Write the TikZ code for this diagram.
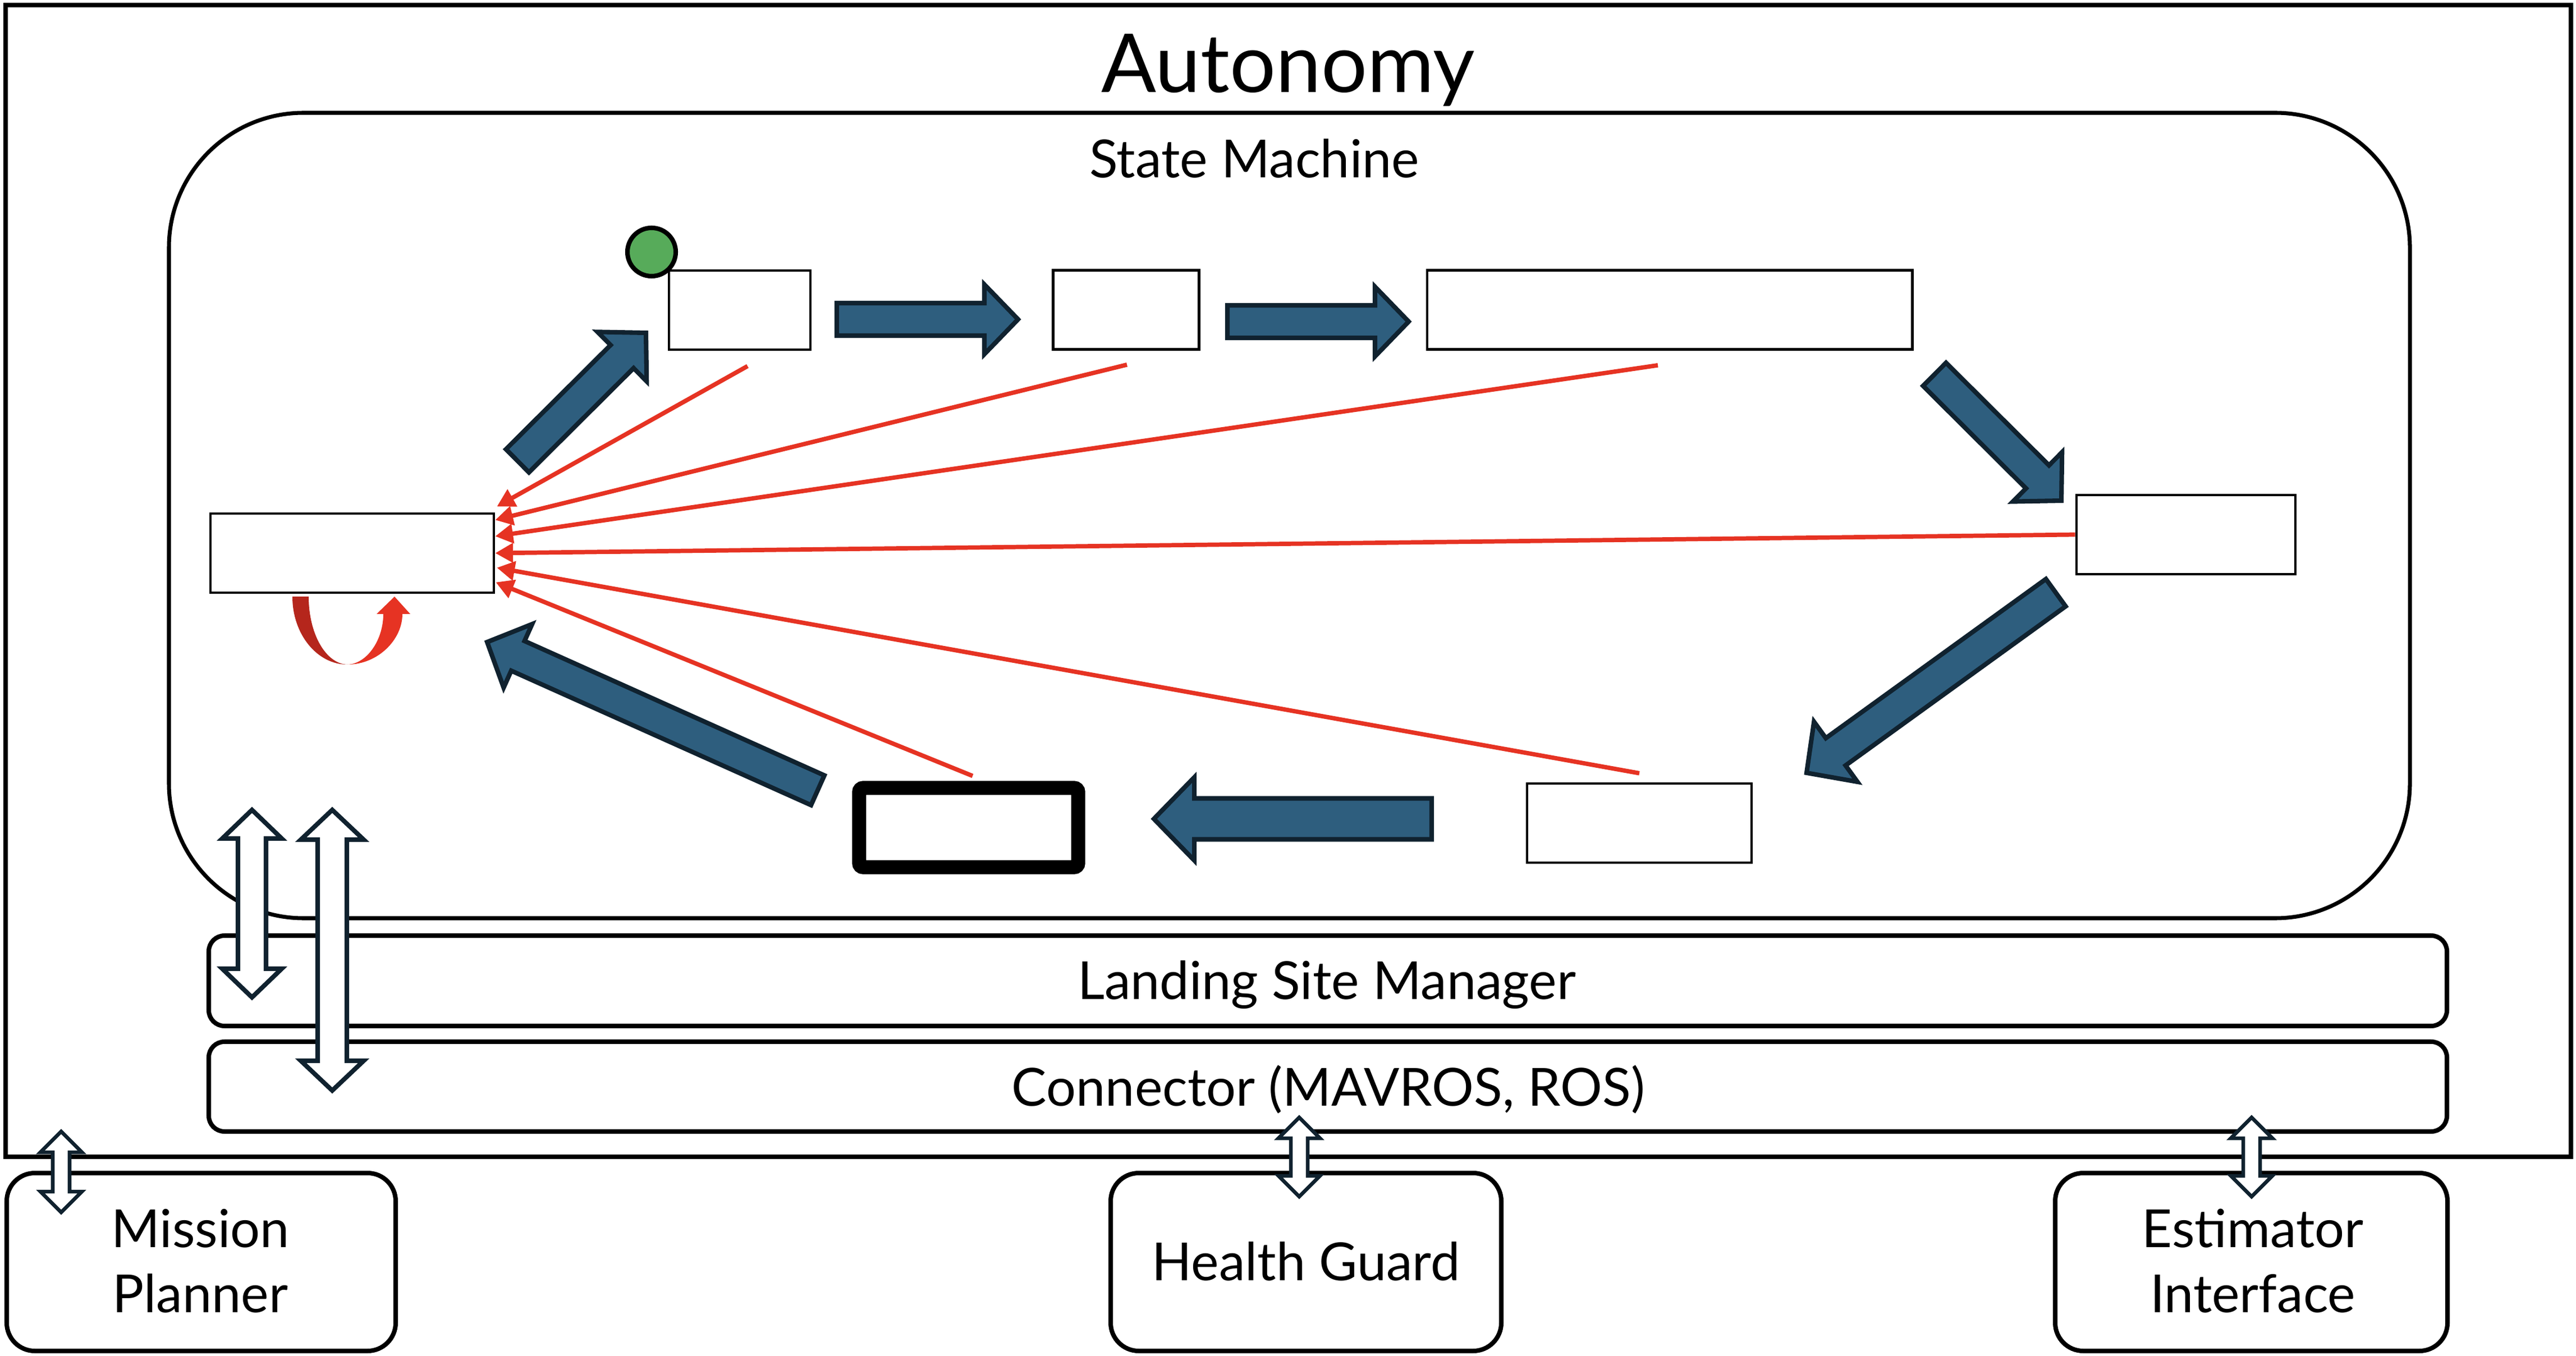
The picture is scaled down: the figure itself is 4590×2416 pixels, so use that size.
\documentclass[tikz,border=0pt]{standalone}
\usepackage{fontspec}
\setmainfont{Lato}
\usetikzlibrary{calc,arrows.meta}
\definecolor{navy}{HTML}{2E5E7E}
\definecolor{navyline}{HTML}{10222F}
\definecolor{redA}{HTML}{E63323}
\definecolor{redB}{HTML}{B5261C}
\definecolor{greenS}{HTML}{57AB5A}
\tikzset{
 frame/.style={draw=black, line width=2.28pt},
 smbox/.style={draw=black, line width=2pt, rounded corners=2.4cm},
 panel/.style={draw=black, line width=2.28pt, rounded corners=0.28cm, fill=white},
 extbox/.style={draw=black, line width=2.28pt, rounded corners=0.5cm, fill=white},
 state/.style={draw=black, line width=1.28pt, fill=white, inner sep=0pt, minimum height=1.41cm},
 boldstate/.style={draw=black, line width=7.1pt, fill=white, inner sep=0pt, minimum height=1.41cm, rounded corners=2pt},
 fatstyle/.style={fill=navy, draw=navyline, line width=2.3pt, line join=miter},
 dblstyle/.style={fill=white, draw=navyline, line width=2.28pt, line join=miter},
 smalldbl/.style={fill=white, draw=navyline, line width=1.85pt, line join=miter},
 redline/.style={draw=redA, line width=2.2pt, -{Triangle[length=9pt,width=9.5pt]}},
 lbl/.style={font=\fontsize{26.6}{31}\selectfont, anchor=base, inner sep=0pt},
 ttl/.style={font=\fontsize{41.2}{47}\selectfont, anchor=base, inner sep=0pt},
 initdot/.style={circle, fill=greenS, draw=black, line width=2.3pt, minimum size=0.86cm, inner sep=0pt},
}
% fat block arrow: tail, tip, half shaft, half head, head length
\newcommand\fatarrow[5]{%
  \coordinate (fa-j) at ($(#2)!#5!(#1)$);
  \draw[fatstyle] ($(#1)!#3!90:(#2)$) -- ($(fa-j)!#3!90:(#2)$) -- ($(fa-j)!#4!90:(#2)$) -- (#2)
    -- ($(fa-j)!#4!-90:(#2)$) -- ($(fa-j)!#3!-90:(#2)$) -- ($(#1)!#3!-90:(#2)$) -- cycle;}
% vertical double block arrow: style, x, ytop, ybottom, half shaft, half head, head length
\newcommand\dblarrow[7]{%
  \draw[#1] (#2,#3) -- (#2+#6,#3+#7) -- (#2+#5,#3+#7) -- (#2+#5,#4-#7) -- (#2+#6,#4-#7) -- (#2,#4)
    -- (#2-#6,#4-#7) -- (#2-#5,#4-#7) -- (#2-#5,#3+#7) -- (#2-#6,#3+#7) -- cycle;}
\begin{document}
\begin{tikzpicture}[x=0.01cm, y=-0.01cm]
\useasboundingbox (0,0) rectangle (4590,2416);
\fill[white] (0,0) rectangle (4590,2416);
% containers
\draw[frame] (10,9) rectangle (4581,2061);
\node[ttl] (autonomy) at (2295,165) {Autonomy};
\draw[smbox] (301,201) rectangle (4294,1636);
\node[lbl] (smtitle) at (2235,317) {State Machine};
\draw[panel] (372,1667) rectangle (4360,1828);
\node[lbl] (lsm) at (2364,1780) {Landing Site Manager};
\draw[panel] (372,1856) rectangle (4360,2016);
\node[lbl] (conn) at (2367,1970) {Connector (MAVROS, ROS)};
% large double arrows
\dblarrow{dblstyle}{449}{1443}{1777}{25}{53}{51}
\dblarrow{dblstyle}{592}{1443}{1943}{26}{56}{53}
% external boxes
\draw[extbox] (12,2090) rectangle (705,2407);
\node[lbl] (mp1) at (357,2222) {Mission};
\node[lbl] (mp2) at (357,2338) {Planner};
\draw[extbox] (1979,2090) rectangle (2675,2407);
\node[lbl] (hg) at (2327,2281) {Health Guard};
\draw[extbox] (3662,2090) rectangle (4361,2407);
\node[lbl] (ei1) at (4014,2222) {Estimator};
\node[lbl] (ei2) at (4014,2338) {Interface};
% small double arrows
\dblarrow{smalldbl}{109}{2016}{2160}{15}{37}{37}
\dblarrow{smalldbl}{2315}{1991}{2132}{15}{37}{37}
\dblarrow{smalldbl}{4012}{1991}{2132}{15}{37}{37}
% states
\node[state, minimum width=5.05cm] (b0) at (627.5,985.5) {};
\node[state, minimum width=2.52cm] (b1) at (1318,552.5) {};
\node[state, minimum width=2.60cm] (b2) at (2006.5,552) {};
\node[state, minimum width=8.64cm] (b3) at (2975,552) {};
\node[state, minimum width=3.90cm] (b4) at (3895,952.5) {};
\node[state, minimum width=4.00cm] (b5) at (2921,1466.5) {};
\node[boldstate, minimum width=3.90cm] (b6) at (1726,1474.5) {};
\node[initdot] (init) at (1161,449) {};
% transitions (block arrows)
\fatarrow{922,821}{1151,593}{0.29cm}{0.62cm}{0.60cm}
\fatarrow{1491,569}{1814,569}{0.29cm}{0.62cm}{0.60cm}
\fatarrow{2187,573}{2510,573}{0.29cm}{0.62cm}{0.60cm}
\fatarrow{3447,667}{3673,892}{0.29cm}{0.62cm}{0.60cm}
\fatarrow{3663,1056}{3219,1377}{0.30cm}{0.66cm}{0.64cm}
\fatarrow{2551,1459}{2056,1459}{0.365cm}{0.74cm}{0.72cm}
\fatarrow{1457,1408}{868,1144}{0.29cm}{0.62cm}{0.60cm}
% abort transitions (red)
\draw[redline] ($(b1.south)+(14,27)$) -- ($(b0.east)+(3,-83)$);
\draw[redline] ($(b2.south)+(1.5,25)$) -- ($(b0.east)+(0,-59)$);
\draw[redline] ($(b3.south)+(-21,26)$) -- ($(b0.east)+(0,-30)$);
\draw[redline] (b4.west) -- (b0.east);
\draw[redline] ($(b5.north)+(0,-16)$) -- ($(b0.east)+(3,26)$);
\draw[redline] ($(b6.north)+(7,-9)$) -- ($(b0.east)+(1,52)$);
% self loop below b0
\fill[redB] (521,1063) .. controls (521,1130) and (565,1184) .. (619,1184)
  .. controls (581,1183) and (550,1130) .. (550,1063) -- cycle;
\fill[redA] (619,1184) .. controls (673,1184) and (717,1140) .. (717,1094)
  -- (731,1094) -- (703,1063) -- (671,1094) -- (683,1094)
  .. controls (683,1140) and (654,1183) .. (619,1184) -- cycle;
\end{tikzpicture}
\end{document}
